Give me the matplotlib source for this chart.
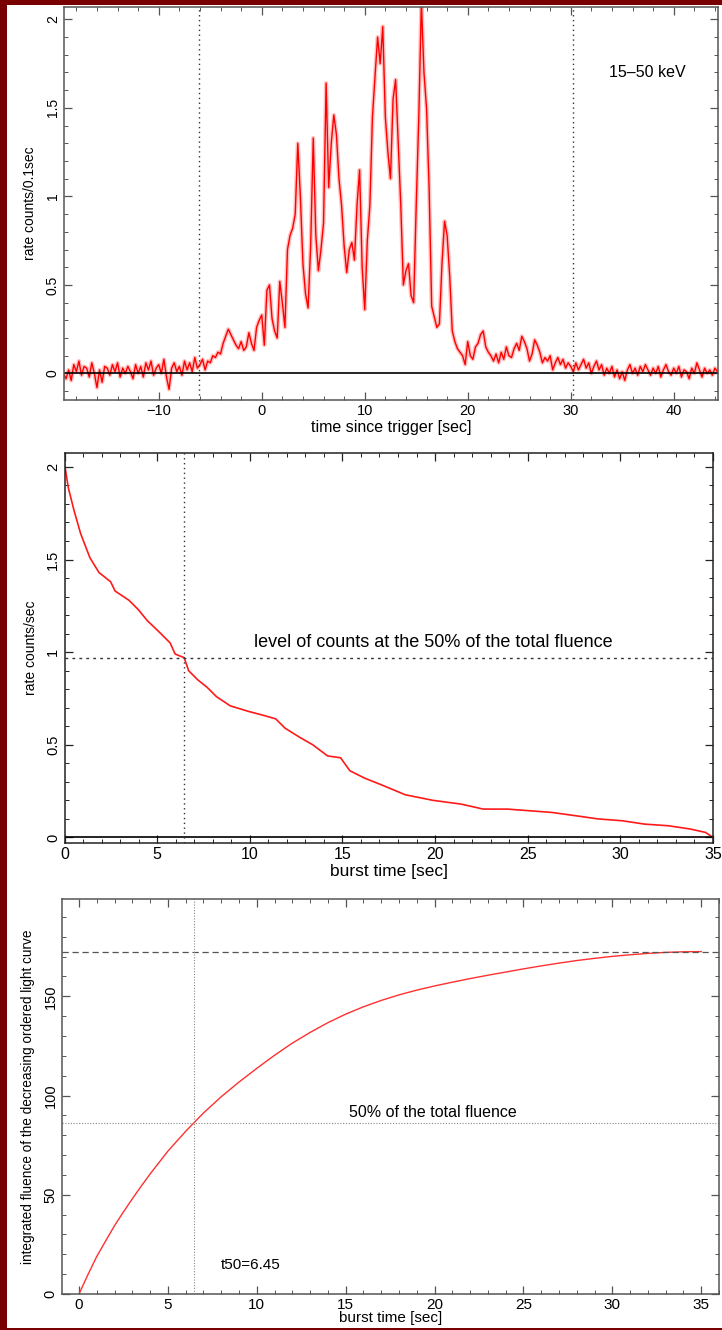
import numpy as np
import matplotlib
matplotlib.use("Agg")
import matplotlib.pyplot as plt
from matplotlib.patches import Rectangle
from matplotlib.ticker import MultipleLocator, FormatStrFormatter

plt.rcParams['font.family'] = ['Liberation Sans', 'DejaVu Sans']

# --- panel 1: light curve 15-50 keV, 0.25 s bins starting at -20 s
lc_start = -20.0
lc_step = 0.25
lc_rate = [
    0.02, -0.01, 0.03, 0.00,     # -20
    -0.03, 0.02, -0.04, 0.05,    # -19
    0.01, 0.07, -0.01, 0.04,     # -18
    0.03, -0.02, 0.06, 0.00,     # -17
    -0.08, 0.02, -0.05, 0.04,    # -16
    0.03, -0.01, 0.05, 0.01,     # -15
    0.06, -0.02, 0.03, 0.00,     # -14
    0.04, 0.01, -0.03, 0.05,     # -13
    0.00, 0.04, -0.02, 0.06,     # -12
    0.02, 0.07, -0.01, 0.03,     # -11
    0.05, 0.00, 0.08, -0.02,     # -10
    -0.09, 0.03, 0.06, 0.01,     # -9
    0.04, -0.01, 0.07, 0.02,     # -8
    0.06, 0.01, 0.09, 0.03,      # -7
    0.05, 0.08, 0.02, 0.07,      # -6
    0.06, 0.10, 0.09, 0.12,      # -5
    0.11, 0.17, 0.21, 0.25,      # -4
    0.22, 0.19, 0.16, 0.14,      # -3
    0.18, 0.13, 0.15, 0.23,      # -2
    0.17, 0.13, 0.26, 0.30,      # -1
    0.33, 0.16, 0.47, 0.50,      # 0
    0.31, 0.24, 0.20, 0.52,      # 1
    0.40, 0.26, 0.70, 0.78,      # 2
    0.82, 0.90, 1.30, 1.00,      # 3
    0.62, 0.45, 0.37, 0.72,      # 4
    1.33, 0.78, 0.58, 0.70,      # 5
    0.85, 1.64, 1.05, 1.30,      # 6
    1.46, 1.35, 1.10, 0.95,      # 7
    0.72, 0.57, 0.70, 0.74,      # 8
    0.64, 0.95, 1.15, 0.60,      # 9
    0.36, 0.75, 0.95, 1.45,      # 10
    1.68, 1.90, 1.75, 1.96,      # 11
    1.45, 1.25, 1.10, 1.55,      # 12
    1.66, 1.30, 0.95, 0.50,      # 13
    0.58, 0.62, 0.44, 0.40,      # 14
    0.95, 1.45, 2.10, 1.70,      # 15
    1.50, 1.05, 0.38, 0.32,      # 16
    0.26, 0.28, 0.62, 0.86,      # 17
    0.78, 0.55, 0.24, 0.18,      # 18
    0.14, 0.12, 0.10, 0.05,      # 19
    0.18, 0.10, 0.08, 0.15,      # 20
    0.17, 0.22, 0.24, 0.15,      # 21
    0.12, 0.10, 0.07, 0.11,      # 22
    0.06, 0.12, 0.08, 0.15,      # 23
    0.10, 0.09, 0.14, 0.17,      # 24
    0.13, 0.21, 0.18, 0.14,      # 25
    0.07, 0.11, 0.19, 0.16,      # 26
    0.12, 0.06, 0.09, 0.07,      # 27
    0.10, 0.02, 0.06, 0.09,      # 28
    0.05, 0.08, 0.03, 0.06,      # 29
    0.04, 0.01, 0.06, 0.02,      # 30
    0.05, 0.08, 0.03, 0.06,      # 31
    0.00, 0.04, 0.07, 0.02,      # 32
    0.05, -0.01, 0.03, 0.00,     # 33
    0.04, -0.02, 0.02, -0.03,    # 34
    0.01, -0.04, 0.02, 0.05,     # 35
    0.00, 0.03, -0.01, 0.04,     # 36
    0.01, 0.05, 0.02, -0.01,     # 37
    0.03, 0.00, 0.04, -0.02,     # 38
    0.02, 0.05, 0.01, -0.01,     # 39
    0.03, 0.00, 0.04, -0.02,     # 40
    0.02, 0.01, -0.03, 0.03,     # 41
    0.00, 0.06, 0.02, -0.02,     # 42
    0.03, 0.00, 0.02, -0.01,     # 43
    0.03, 0.01, 0.02, 0.00,      # 44
]
t_window = [-6.1, 30.2]
band_label = "15\u201350 keV"

# --- panel 2: decreasing ordered light curve
sorted_time = [0, 0.2, 0.5, 0.87, 1.37, 1.86, 2.49, 2.73, 3.48, 3.98, 4.47, 5.1,
               5.7, 5.97, 6.46, 6.7, 7.2, 7.7, 8.2, 8.95, 9.94, 10.7, 11.4, 11.9,
               12.7, 13.4, 14.2, 14.9, 15.4, 16.2, 17.2, 18.4, 19.9, 21.4, 22.6,
               23.9, 26.3, 27.6, 28.8, 30.1, 31.3, 32.6, 33.8, 34.6, 35.0]
sorted_rate = [2.02, 1.89, 1.77, 1.64, 1.51, 1.43, 1.38, 1.33, 1.28, 1.23, 1.17, 1.11,
               1.05, 0.99, 0.97, 0.90, 0.85, 0.81, 0.76, 0.71, 0.68, 0.66, 0.64, 0.59,
               0.54, 0.50, 0.44, 0.43, 0.36, 0.32, 0.28, 0.23, 0.20, 0.18, 0.153,
               0.153, 0.135, 0.117, 0.10, 0.09, 0.072, 0.063, 0.045, 0.027, 0.0]
level50 = 0.97
t50 = 6.45

# --- panel 3: integrated fluence
cum_time = [0, 0.5, 1, 1.5, 2, 2.5, 3, 3.5, 4, 5, 6, 7, 8, 9, 10, 11, 12, 13, 14,
            15, 16, 17, 18, 19, 20, 21, 22, 23, 24, 25, 26, 27, 28, 29, 30, 31,
            32, 33, 34, 35]
cum_fluence = [0, 9.8, 19, 26.8, 34.5, 41.4, 48, 54.4, 60.5, 72, 82, 91.2, 99.4,
               106.8, 113.7, 120.3, 126.4, 131.8, 136.7, 141, 144.7, 147.9, 150.7,
               153.1, 155.2, 157.1, 158.9, 160.6, 162.2, 163.8, 165.3, 166.7, 168,
               169.1, 170.1, 170.9, 171.6, 172.1, 172.4, 172.5]
total_fluence = 172.5


def style_axes(ax, xmaj, xmin, ymaj, ymin, spine_color, xfs, yfs):
    ax.xaxis.set_major_locator(MultipleLocator(xmaj))
    ax.xaxis.set_minor_locator(MultipleLocator(xmin))
    ax.yaxis.set_major_locator(MultipleLocator(ymaj))
    ax.yaxis.set_minor_locator(MultipleLocator(ymin))
    ax.yaxis.set_major_formatter(FormatStrFormatter('%g'))
    ax.tick_params(which='both', direction='in', top=True, right=True,
                   color=spine_color)
    ax.tick_params(axis='x', labelsize=xfs, pad=3)
    ax.tick_params(axis='y', labelsize=yfs, pad=3)
    ax.tick_params(which='major', length=6, width=0.9)
    ax.tick_params(which='minor', length=3, width=0.7)
    for lbl in ax.get_yticklabels():
        lbl.set_rotation(90)
        lbl.set_va('center')
    for s in ax.spines.values():
        s.set_color(spine_color)
        s.set_linewidth(1.1)


fig = plt.figure(figsize=(7.22, 13.30), dpi=100, facecolor='#780000')
fig.patches.append(Rectangle((7 / 722, 2 / 1330), 1, 1 - 7 / 1330,
                             transform=fig.transFigure, facecolor='white',
                             edgecolor='none', zorder=-10))

# panel 1
ax1 = fig.add_axes([64 / 722, 1 - 400 / 1330, 654 / 722, 393 / 1330])
t_lc = lc_start + lc_step * np.arange(len(lc_rate))
ax1.plot(t_lc, lc_rate, color='#ffc0c0', lw=3)
ax1.plot(t_lc, lc_rate, color='#ff0000', lw=1)
ax1.axhline(0, color='black', lw=1.2)
for tw in t_window:
    ax1.axvline(tw, color='#333333', lw=1, linestyle=(0, (1, 2.5)))
ax1.text(37.4, 1.70, band_label, fontsize=11.5, ha='center', va='center')
ax1.set_xlim(-19.2, 44.3)
ax1.set_ylim(-0.15, 2.07)
style_axes(ax1, 10, 2, 0.5, 0.1, '#555555', 10.5, 10)
ax1.set_xlabel("time since trigger [sec]", fontsize=11.5, labelpad=1)
ax1.set_ylabel("rate counts/0.1sec", fontsize=10, labelpad=6)

# panel 2
ax2 = fig.add_axes([64.5 / 722, 1 - 843 / 1330, 648.5 / 722, 390 / 1330])
ax2.plot(sorted_time, sorted_rate, color='#ff1a1a', lw=1.2)
ax2.axhline(0, color='black', lw=1.2)
ax2.axhline(level50, color='#333333', lw=1, linestyle=(0, (2, 3)))
ax2.axvline(t50, color='#333333', lw=1, linestyle=(0, (1, 2.5)))
ax2.text(19.9, 1.05, "level of counts at the 50% of the total fluence",
         fontsize=13, ha='center', va='center')
ax2.set_xlim(0, 35)
ax2.set_ylim(-0.03, 2.075)
style_axes(ax2, 5, 1, 0.5, 0.1, '#222222', 11.5, 10.5)
ax2.set_xlabel("burst time [sec]", fontsize=12.5, labelpad=1)
ax2.set_ylabel("rate counts/sec", fontsize=10, labelpad=6)

# panel 3
ax3 = fig.add_axes([62 / 722, 1 - 1294 / 1330, 657 / 722, 395 / 1330])
ax3.plot(cum_time, cum_fluence, color='#ff3030', lw=1)
ax3.axhline(total_fluence, color='#555555', lw=0.9, linestyle=(0, (5, 3)))
ax3.axhline(total_fluence / 2, color='#888888', lw=0.8, linestyle=(0, (1, 1.5)))
ax3.axvline(t50, color='#888888', lw=0.8, linestyle=(0, (1, 1.5)))
ax3.text(19.9, 87.5, "50% of the total fluence", fontsize=11.5, ha='center', va='bottom')
ax3.text(8.0, 14.6, "t50=%.2f" % t50, fontsize=11, ha='left', va='center')
ax3.set_xlim(-0.96, 36.0)
ax3.set_ylim(0, 199)
style_axes(ax3, 5, 1, 50, 10, '#555555', 11, 10.5)
ax3.set_xlabel("burst time [sec]", fontsize=11, labelpad=-1)
ax3.set_ylabel("integrated fluence of the decreasing ordered light curve",
               fontsize=9.8, labelpad=6)

fig.savefig("out.png", dpi=100, facecolor=fig.get_facecolor())
